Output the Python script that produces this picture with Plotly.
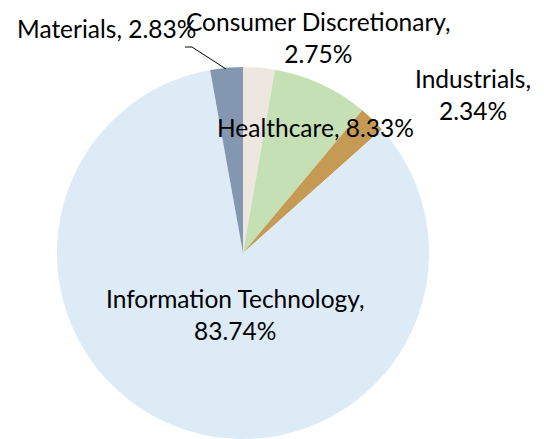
import plotly.graph_objects as go

sectors = ["Consumer Discretionary", "Healthcare", "Industrials", "Information Technology", "Materials"]
weights = [2.75, 8.33, 2.34, 83.74, 2.83]
colors = ["#EDE7E0", "#C5E0B4", "#C49A55", "#DDEBF7", "#8497B0"]

W, H = 544, 439

fig = go.Figure(go.Pie(
    labels=sectors,
    values=weights,
    sort=False,
    direction="clockwise",
    rotation=0,
    marker=dict(colors=colors, line=dict(width=0)),
    textinfo="none",
    hoverinfo="label+percent",
    domain=dict(x=[(243 - 186) / W, (243 + 186) / W], y=[0, 372 / H]),
    showlegend=False,
))

# label placement (pixel positions of label centres) and text for each sector
label_pos = {
    "Consumer Discretionary": (318, 37),
    "Healthcare": (315, 128),
    "Industrials": (473, 94),
    "Information Technology": (235, 314),
    "Materials": (106, 28),
}
two_line = {"Consumer Discretionary", "Industrials", "Information Technology"}

for s, v in zip(sectors, weights):
    px, py = label_pos[s]
    sep = ",<br>" if s in two_line else ", "
    fig.add_annotation(
        x=px / W, y=1 - py / H, xref="paper", yref="paper",
        text=f"{s}{sep}{v:.2f}%", showarrow=False,
        font=dict(family="Lato, Carlito, Calibri, sans-serif", size=24.5, color="#000000"),
        xanchor="center", yanchor="middle", align="center",
    )

# leader line for Materials
fig.add_shape(
    type="path",
    path=f"M {185/W} {1-47/H} L {192/W} {1-47/H} L {226/W} {1-69/H}",
    xref="paper", yref="paper", line=dict(color="#000000", width=1),
)

fig.update_layout(
    width=W, height=H,
    margin=dict(l=0, r=0, t=0, b=0),
    paper_bgcolor="white", plot_bgcolor="white",
)

fig.write_html("out.html", config={"displayModeBar": False},
               post_script="document.body.style.margin='0';")
